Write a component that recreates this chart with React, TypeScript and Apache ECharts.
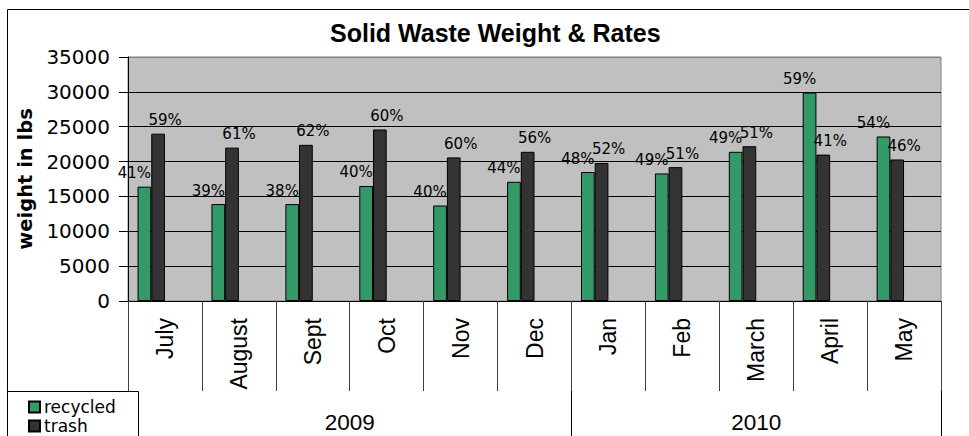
import { useEffect, useRef } from "react";
import * as echarts from "echarts";

const months = ["July", "August", "Sept", "Oct", "Nov", "Dec", "Jan", "Feb", "March", "April", "May"];
const recycled = [16400, 13900, 13900, 16500, 13700, 17100, 18500, 18300, 21400, 29900, 23600];
const trash = [24000, 22000, 22400, 24600, 20600, 21400, 19800, 19200, 22200, 21000, 20300];
const recycledRate = [41, 39, 38, 40, 40, 44, 48, 49, 49, 59, 54];
const trashRate = [59, 61, 62, 60, 60, 56, 52, 51, 51, 41, 46];
const years = ["2009", "2010"];
const monthsPerYear = [6, 5];
const yMin = 0;
const yMax = 35000;
const yStep = 5000;

const W = 969;
const H = 436;
const GRID = { left: 128, right: 28, top: 57, bottom: 135 };
const SANS = "DejaVu Sans";
const ARIAL = "Liberation Sans";

export default function App() {
  const ref = useRef<HTMLDivElement>(null);
  useEffect(() => {
    if (!ref.current) return;
    const chart = echarts.init(ref.current, null, { renderer: "svg", width: W, height: H });

    const bounds: number[] = [0];
    monthsPerYear.forEach((n, i) => bounds.push(bounds[i] + n));
    const mids = monthsPerYear.map((n, i) => bounds[i] + n / 2);
    const nLines = Math.round((yMax - yMin) / yStep) + 1;
    const splitColors = Array.from({ length: nLines }, (_, i) => (i === nLines - 1 ? "#808080" : "#000000"));

    const barW = 13.7;
    const labelBase = {
      show: true,
      position: "top" as const,
      distance: 6,
      fontFamily: SANS,
      fontSize: 15,
      color: "#000",
    };

    chart.setOption({
      animation: false,
      backgroundColor: "#ffffff",
      title: {
        text: "Solid Waste Weight & Rates",
        left: 330,
        top: 20,
        padding: 0,
        textStyle: { fontFamily: ARIAL, fontWeight: "bold", fontSize: 25, color: "#000" },
      },
      grid: {
        ...GRID,
        show: true,
        backgroundColor: "#c0c0c0",
        borderColor: "#808080",
        borderWidth: 1,
        containLabel: false,
      },
      legend: {
        data: ["recycled", "trash"],
        orient: "vertical",
        left: 28,
        top: 398,
        padding: 0,
        itemGap: 1,
        itemWidth: 11,
        itemHeight: 11,
        icon: "rect",
        textStyle: { fontFamily: SANS, fontSize: 17, color: "#000", lineHeight: 18, padding: [0, 0, 0, -1] },
        z: 20,
      },
      xAxis: [
        {
          type: "category",
          data: months,
          axisLine: { show: true, lineStyle: { color: "#000", width: 1 } },
          axisTick: { show: true, interval: 0, length: 90, lineStyle: { color: "#404040" } },
          axisLabel: {
            interval: 0,
            rotate: 90,
            margin: 17,
            fontFamily: ARIAL,
            fontSize: 23,
            color: "#000",
          },
          splitLine: { show: false },
        },
        {
          type: "value",
          min: 0,
          max: bounds[bounds.length - 1],
          position: "bottom",
          offset: 90,
          axisLine: { show: false },
          axisTick: { show: true, customValues: bounds, length: 50, lineStyle: { color: "#000" } },
          axisLabel: {
            show: true,
            customValues: mids,
            margin: 20,
            fontFamily: ARIAL,
            fontSize: 22.5,
            color: "#000",
            formatter: (v: number) => {
              const i = mids.findIndex((m) => Math.abs(m - v) < 1e-6);
              return i >= 0 ? years[i] : "";
            },
          },
          splitLine: { show: false },
        },
      ],
      yAxis: {
        type: "value",
        min: yMin,
        max: yMax,
        interval: yStep,
        name: "weight in lbs",
        nameLocation: "middle",
        nameGap: 86,
        nameRotate: 90,
        nameTextStyle: { fontFamily: SANS, fontWeight: "bold", fontSize: 19.5, color: "#000" },
        axisLine: { show: true, lineStyle: { color: "#000", width: 1 } },
        axisTick: { show: true, length: 9, lineStyle: { color: "#000" } },
        axisLabel: {
          margin: 18,
          fontFamily: SANS,
          fontSize: 20,
          color: "#000",
          formatter: (v: number) => String(v),
        },
        splitLine: { show: true, lineStyle: { color: splitColors, width: 1 } },
      },
      series: [
        {
          name: "recycled",
          type: "bar",
          data: recycled,
          barWidth: barW,
          barGap: "0%",
          itemStyle: { color: "#339966", borderColor: "#000", borderWidth: 1 },
          label: { ...labelBase, offset: [-10, 0], formatter: (p: any) => recycledRate[p.dataIndex] + "%" },
        },
        {
          name: "trash",
          type: "bar",
          data: trash,
          barWidth: barW,
          barGap: "0%",
          itemStyle: { color: "#333333", borderColor: "#000", borderWidth: 1 },
          label: { ...labelBase, offset: [7, 0], formatter: (p: any) => trashRate[p.dataIndex] + "%" },
        },
        {
          name: "recycled rate",
          type: "bar",
          data: recycledRate,
          barWidth: barW,
          barGap: "0%",
          silent: true,
          itemStyle: { color: "rgba(0,0,0,0)", borderWidth: 0 },
        },
        {
          name: "trash rate",
          type: "bar",
          data: trashRate,
          barWidth: barW,
          barGap: "0%",
          silent: true,
          itemStyle: { color: "rgba(0,0,0,0)", borderWidth: 0 },
        },
      ],
      graphic: [
        {
          type: "rect",
          z: 15,
          shape: { x: 7.5, y: 9.5, width: 1000, height: 500 },
          style: { fill: "none", stroke: "#000", lineWidth: 1 },
          silent: true,
        },
        {
          type: "rect",
          z: 15,
          shape: { x: 7.5, y: 391.5, width: 131, height: 80 },
          style: { fill: "#fff", stroke: "#000", lineWidth: 1 },
          silent: true,
        },
      ],
    });
    return () => chart.dispose();
  }, []);
  return (
    <div
      ref={ref}
      style={{ position: "fixed", left: 0, top: 0, width: W, height: H, background: "#fff" }}
    />
  );
}
